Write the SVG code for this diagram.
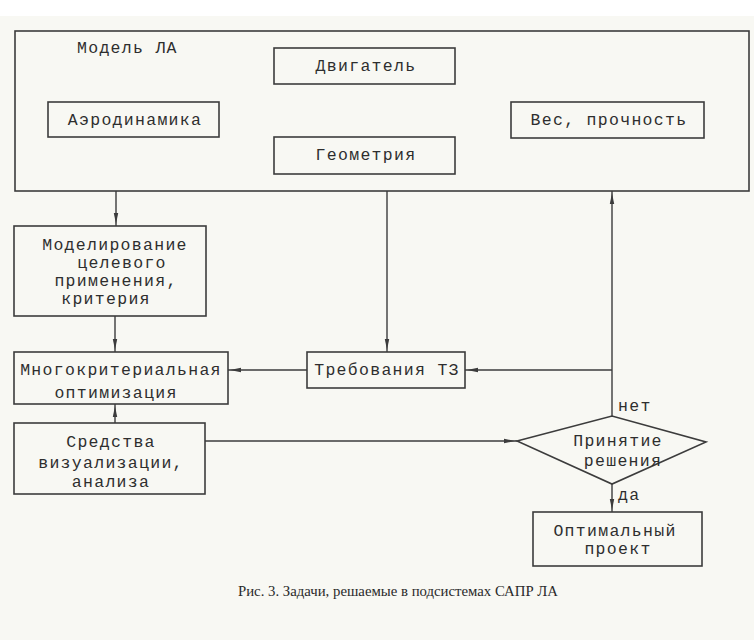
<svg xmlns="http://www.w3.org/2000/svg" width="754" height="640" viewBox="0 0 754 640">
  <defs>
    <style>
      .box { fill: none; stroke: #3c3c3c; stroke-width: 1.6; }
      .wire { fill: none; stroke: #3c3c3c; stroke-width: 1.4; }
      .lbl { font-family: "Liberation Mono", "DejaVu Sans Mono", monospace; font-size: 16.5px; letter-spacing: 1.3px; fill: #2e2e2e; }
      .mid { text-anchor: middle; }
      .cap { font-family: "Liberation Serif", "Times New Roman", serif; font-size: 14px; fill: #2a2a2a; }
    </style>
    <marker id="tip" markerUnits="userSpaceOnUse" markerWidth="16" markerHeight="8" refX="13" refY="0" viewBox="0 -4 16 8" orient="auto">
      <path d="M0,-2.2 L11,0 L0,2.2 z" fill="#3c3c3c"/>
    </marker>
  </defs>

  <!-- page -->
  <rect x="0" y="0" width="754" height="640" fill="#f8f8f3"/>
  <rect x="0" y="0" width="754" height="16" fill="#ffffff"/>

  <!-- aircraft model container -->
  <g id="model">
    <rect class="box" x="15" y="31" width="734" height="160"/>
    <text class="lbl" x="77" y="53">Модель ЛА</text>
  </g>
  <g id="engine">
    <rect class="box" x="274" y="48" width="181" height="36"/>
    <text class="lbl mid" x="366" y="71">Двигатель</text>
  </g>
  <g id="aero">
    <rect class="box" x="48" y="102" width="171" height="35"/>
    <text class="lbl mid" x="135" y="125">Аэродинамика</text>
  </g>
  <g id="geometry">
    <rect class="box" x="274" y="137" width="181" height="37"/>
    <text class="lbl mid" x="366" y="160">Геометрия</text>
  </g>
  <g id="weight">
    <rect class="box" x="511" y="102" width="193" height="36"/>
    <text class="lbl mid" x="609" y="125">Вес, прочность</text>
  </g>

  <!-- tasks -->
  <g id="simulation">
    <rect class="box" x="14" y="226" width="192" height="90"/>
    <text class="lbl mid" x="115" y="250">Моделирование</text>
    <text class="lbl mid" x="122" y="268">целевого</text>
    <text class="lbl mid" x="116" y="286">применения,</text>
    <text class="lbl mid" x="106" y="304">критерия</text>
  </g>
  <g id="optimization">
    <rect class="box" x="14" y="352" width="214" height="52"/>
    <text class="lbl mid" x="121" y="375">Многокритериальная</text>
    <text class="lbl mid" x="116" y="398">оптимизация</text>
  </g>
  <g id="visualization">
    <rect class="box" x="14" y="423" width="191" height="71"/>
    <text class="lbl mid" x="111" y="447">Средства</text>
    <text class="lbl mid" x="111" y="468">визуализации,</text>
    <text class="lbl mid" x="111" y="487">анализа</text>
  </g>
  <g id="requirements">
    <rect class="box" x="307" y="352" width="158" height="36"/>
    <text class="lbl mid" x="387" y="375">Требования ТЗ</text>
  </g>
  <g id="decision">
    <polygon class="box" points="517,441 612,416 706,442 612,484"/>
    <text class="lbl mid" x="618" y="446">Принятие</text>
    <text class="lbl mid" x="623" y="466">решения</text>
  </g>
  <g id="optimum">
    <rect class="box" x="533" y="512" width="169" height="54"/>
    <text class="lbl mid" x="615" y="536">Оптимальный</text>
    <text class="lbl mid" x="618" y="554">проект</text>
  </g>

  <!-- connectors -->
  <g id="connectors">
    <path class="wire" d="M116,191 V226" marker-end="url(#tip)"/>
    <path class="wire" d="M387,191 V352" marker-end="url(#tip)"/>
    <path class="wire" d="M115,316 V352" marker-end="url(#tip)"/>
    <path class="wire" d="M307,370 H228" marker-end="url(#tip)"/>
    <path class="wire" d="M115,423 V404" marker-end="url(#tip)"/>
    <path class="wire" d="M205,441 H517" marker-end="url(#tip)"/>
    <path class="wire" d="M612,416 V191" marker-end="url(#tip)"/>
    <path class="wire" d="M612,370 H465" marker-end="url(#tip)"/>
    <path class="wire" d="M612,484 V512" marker-end="url(#tip)"/>
    <text class="lbl" x="618" y="411">нет</text>
    <text class="lbl" x="618" y="500">да</text>
  </g>

  <text class="cap" x="398" y="596" text-anchor="middle" textLength="320" lengthAdjust="spacingAndGlyphs">Рис. 3. Задачи, решаемые в подсистемах САПР ЛА</text>
</svg>
